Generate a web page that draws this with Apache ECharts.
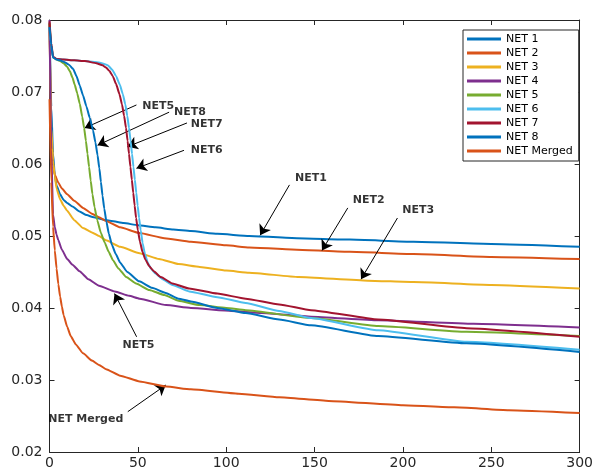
<!DOCTYPE html>
<html>
<head>
<meta charset="utf-8">
<script src="https://cdn.jsdelivr.net/npm/echarts@6/dist/echarts.min.js"></script>
<style>
html, body { margin: 0; padding: 0; background: #ffffff; }
#chart { width: 596px; height: 470px; }
</style>
</head>
<body>
<div id="chart"></div>
<script>
// Training curves: [iteration, loss]
const net1 = [[0,0.0795],[1,0.068],[2,0.0615],[3,0.0584],[4,0.0570],[6,0.0558],[8,0.0550],[10,0.0546],[13,0.0541],[17,0.0534],[21,0.0529],[25,0.0526],[30,0.0523],[35,0.0521],[42,0.0518],[50,0.0515],[60,0.0512],[70,0.0509],[80,0.0507],[95,0.0503],[113,0.0500],[140,0.0497],[170,0.0495],[206,0.0492],[250,0.0489],[300,0.0485]];
const net2 = [[0,0.0795],[1,0.0640],[2,0.0597],[3,0.0585],[5,0.0574],[7,0.0566],[10,0.0558],[14,0.0549],[19,0.0539],[24,0.0531],[28,0.0526],[32,0.0521],[40,0.0512],[51,0.0504],[65,0.0497],[80,0.0492],[100,0.0487],[113,0.0484],[140,0.0481],[170,0.0478],[206,0.0475],[250,0.0471],[300,0.0468]];
const net3 = [[0,0.0795],[1,0.0650],[2,0.0605],[3,0.0583],[4,0.0566],[6,0.0551],[8,0.0542],[10,0.0535],[14,0.0522],[19,0.0511],[24,0.0505],[28,0.0500],[32,0.0494],[40,0.0485],[51,0.0476],[62,0.0468],[73,0.0461],[85,0.0457],[100,0.0452],[113,0.0449],[141,0.0443],[180,0.0438],[206,0.0436],[250,0.0432],[300,0.0427]];
const net4 = [[0,0.0800],[1,0.0620],[2,0.0530],[3,0.0512],[4,0.0502],[5,0.0494],[7,0.0481],[10,0.0468],[13,0.0460],[17,0.0451],[22,0.0440],[28,0.0431],[37,0.0423],[45,0.0417],[51,0.0413],[66,0.0404],[80,0.0400],[103,0.0396],[120,0.0393],[148,0.0388],[186,0.0383],[240,0.0378],[300,0.0373]];
const net5 = [[0,0.0795],[1,0.0765],[2,0.0748],[4,0.0745],[6,0.0743],[8,0.0740],[10,0.0735],[11.5,0.0729],[13,0.0720],[14.3,0.0710],[15.7,0.0698],[17.1,0.0684],[18.5,0.0666],[19.6,0.0650],[20.6,0.0632],[21.5,0.0614],[22.4,0.0596],[23.3,0.0577],[24.3,0.0558],[25.5,0.0540],[27,0.0522],[29,0.0505],[31.2,0.0491],[33.5,0.0478],[36,0.0466],[39,0.0455],[43.4,0.0443],[49,0.0434],[56.5,0.0425],[65,0.0418],[73,0.0410],[85,0.0404],[100,0.0400],[111,0.0397],[148,0.0386],[186,0.0375],[236,0.0367],[300,0.0361]];
const net6 = [[0,0.0790],[1,0.0765],[2,0.0748],[4,0.0746],[8,0.0745],[14,0.0744],[20,0.0743],[28,0.0741],[31,0.0739],[33,0.0737],[35.5,0.0731],[37.7,0.0722],[39.8,0.0710],[41.5,0.0697],[42.9,0.0683],[44,0.0667],[45,0.0650],[45.9,0.0632],[46.7,0.0614],[47.5,0.0596],[48.3,0.0578],[49.1,0.0560],[49.9,0.0542],[50.7,0.0525],[51.6,0.0508],[52.7,0.0490],[54,0.0475],[55.6,0.0463],[57.6,0.0454],[60,0.0448],[64,0.0440],[69.6,0.0432],[79,0.0423],[95,0.0415],[111,0.0407],[130,0.0396],[148,0.0386],[186,0.0369],[236,0.0353],[300,0.0342]];
const net7 = [[0,0.0798],[1,0.0768],[2,0.0749],[4,0.0746],[8,0.0745],[14,0.0744],[20,0.0743],[26.5,0.0740],[30,0.0737],[32,0.0734],[34,0.0729],[35.8,0.0722],[37.7,0.0711],[39.6,0.0697],[41,0.0683],[42.2,0.0667],[43.3,0.0650],[44.2,0.0632],[45,0.0614],[45.8,0.0596],[46.6,0.0578],[47.4,0.0560],[48.2,0.0542],[49,0.0525],[50,0.0508],[51.2,0.0492],[52.6,0.0478],[54.3,0.0467],[56.5,0.0458],[59,0.0451],[63,0.0443],[69.6,0.0434],[79,0.0427],[95,0.0420],[111,0.0413],[130,0.0405],[148,0.0397],[186,0.0384],[236,0.0372],[300,0.0360]];
const net8 = [[0,0.0790],[1,0.0765],[2,0.0748],[4,0.0745],[6,0.0744],[8,0.0742],[11,0.0738],[13.4,0.0732],[15.3,0.0722],[17.1,0.0709],[19,0.0695],[20.9,0.0680],[22.8,0.0664],[24.6,0.0647],[26,0.0630],[27.2,0.0612],[28.2,0.0594],[29.1,0.0575],[30,0.0556],[31,0.0538],[32.2,0.0520],[33.6,0.0503],[35.3,0.0488],[37.5,0.0475],[40,0.0463],[44,0.0450],[50.8,0.0437],[58,0.0428],[65.8,0.0421],[73,0.0413],[80,0.0409],[95,0.0400],[111,0.0393],[130,0.0384],[148,0.0376],[186,0.0361],[236,0.0351],[300,0.0339]];
const netMerged = [[0,0.0690],[1,0.0575],[2,0.0513],[3,0.0480],[4,0.0455],[5,0.0433],[6,0.0416],[7,0.0402],[8,0.0390],[10,0.0374],[12,0.0361],[15,0.0349],[19,0.0337],[24,0.0327],[28,0.0321],[32,0.0315],[40,0.0306],[51,0.0298],[66,0.0291],[80,0.0287],[107,0.0281],[130,0.0276],[158,0.0271],[200,0.0265],[229,0.0262],[260,0.0258],[300,0.0254]];

const seriesNames = ['NET 1','NET 2','NET 3','NET 4','NET 5','NET 6','NET 7','NET 8','NET Merged'];
const seriesData = [net1, net2, net3, net4, net5, net6, net7, net8, netMerged];

// Axis ranges
const xRange = [0, 300];
const xStep = 50;
const yRange = [0.02, 0.08];
const yStep = 0.01;

// Callouts: label text, where the label sits, arrow tail and arrow head (data units)
const calloutText = ['NET5','NET8','NET7','NET6','NET1','NET2','NET3','NET5','NET Merged'];
const calloutLabelAt = [[61.5,0.0681],[79.5,0.06715],[89.0,0.06549],[89.0,0.06194],[148.0,0.05806],[180.6,0.0550],[208.7,0.05361],[50.3,0.03486],[20.5,0.02458]];
const calloutTail = [[49.2,0.0682],[67.7,0.0672],[77.8,0.0657],[76.1,0.0619],[135.8,0.0571],[168.8,0.0539],[196.9,0.0525],[49.3,0.0360],[44.3,0.0256]];
const calloutHead = [[19.9,0.0650],[27.2,0.0626],[44.1,0.0624],[49.2,0.0594],[119.2,0.0501],[154.2,0.0480],[176.3,0.0440],[36.8,0.0420],[65.8,0.0293]];

const palette = ['#0072BD','#D95319','#EDB120','#7E2F8E','#77AC30','#4DBEEE','#A2142F','#0072BD','#D95319'];
const FONT = 'DejaVu Sans';
const INK = '#262626';

const chart = echarts.init(document.getElementById('chart'), null, { renderer: 'canvas' });

function axisBase(range, step) {
  return {
    type: 'value', min: range[0], max: range[1], interval: step,
    axisLine: { show: true, onZero: false, lineStyle: { color: INK, width: 1 } },
    axisTick: { show: true, inside: true, length: 5, lineStyle: { color: INK } },
    splitLine: { show: false }
  };
}

const lineSeries = seriesNames.map((name, i) => ({
  name: name,
  type: 'line',
  data: seriesData[i],
  xAxisIndex: 0, yAxisIndex: 0,
  showSymbol: false, symbol: 'none',
  smooth: 0.15,
  smoothMonotone: 'x',
  lineStyle: { color: palette[i], width: 2 },
  itemStyle: { color: palette[i] },
  emphasis: { disabled: true },
  z: 2 + i
}));

const arrowSeries = {
  name: 'callout-arrows',
  type: 'line',
  data: [],
  silent: true,
  z: 20,
  markLine: {
    silent: true,
    animation: false,
    symbol: ['none', 'arrow'],
    symbolSize: 10,
    lineStyle: { color: '#000', width: 1, type: 'solid' },
    label: { show: false },
    emphasis: { disabled: true },
    data: calloutTail.map((t, i) => [{ coord: t }, { coord: calloutHead[i] }])
  }
};

const labelSeries = {
  name: 'callout-labels',
  type: 'scatter',
  silent: true,
  z: 21,
  symbolSize: 1,
  itemStyle: { color: 'rgba(0,0,0,0)' },
  data: calloutText.map((t, i) => ({ name: t, value: calloutLabelAt[i] })),
  label: {
    show: true, position: 'inside', formatter: '{b}',
    fontFamily: FONT, fontWeight: 'bold', fontSize: 11, color: '#000'
  }
};

chart.setOption({
  animation: false,
  backgroundColor: '#ffffff',
  grid: { left: 49.5, right: 13, top: 20, bottom: 18, containLabel: false },
  xAxis: [
    Object.assign(axisBase(xRange, xStep), {
      position: 'bottom',
      axisLabel: { color: INK, fontFamily: FONT, fontSize: 14, margin: 4, showMinLabel: true, showMaxLabel: true }
    }),
    Object.assign(axisBase(xRange, xStep), { position: 'top', axisLabel: { show: false } })
  ],
  yAxis: [
    Object.assign(axisBase(yRange, yStep), {
      position: 'left',
      axisLabel: { color: INK, fontFamily: FONT, fontSize: 14, margin: 7, showMinLabel: true, showMaxLabel: true,
        formatter: v => v.toFixed(2) }
    }),
    Object.assign(axisBase(yRange, yStep), { position: 'right', axisLabel: { show: false } })
  ],
  legend: {
    data: seriesNames,
    orient: 'vertical',
    left: 463, top: 30,
    icon: 'rect',
    itemWidth: 34, itemHeight: 3, itemGap: 0,
    padding: [2, 6, 3, 4],
    backgroundColor: '#ffffff',
    borderColor: INK, borderWidth: 1, borderRadius: 0,
    textStyle: { fontFamily: FONT, fontSize: 11, color: '#000', lineHeight: 14 },
    selectedMode: false
  },
  series: lineSeries.concat([arrowSeries, labelSeries])
});
</script>
</body>
</html>
